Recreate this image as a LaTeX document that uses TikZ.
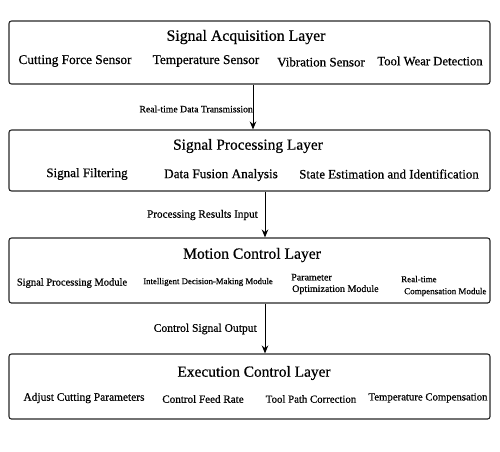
\documentclass[tikz,border=0pt]{standalone}
\usepackage{fontspec}
\setmainfont{Liberation Serif}[FakeBold=0.6]
\usetikzlibrary{arrows.meta}
\begin{document}
\begin{tikzpicture}[x=1pt,y=-1pt,
  layer/.style={draw=black!85,line width=1.1pt,rounded corners=2.5pt,minimum width=481pt,inner sep=0pt},
  ttl/.style={font=\fontsize{15.5}{17}\selectfont,inner sep=0pt},
  item/.style={font=\fontsize{13}{15}\selectfont,inner sep=0pt},
  sitem/.style={font=\fontsize{10}{11.5}\selectfont,inner sep=0pt,align=left},
  lbl/.style={font=\fontsize{10}{12}\selectfont,inner sep=0pt,anchor=east},
  arr/.style={line width=1pt,-{Stealth[length=8pt,width=6.5pt]}}]
\useasboundingbox (0,0) rectangle (500,451);
% boxes
\node[layer,minimum height=63pt] (b1) at (249.5,52.5) {};
\node[layer,minimum height=61pt] (b2) at (249.5,160.5) {};
\node[layer,minimum height=65pt] (b3) at (249.5,270.5) {};
\node[layer,minimum height=65pt] (b4) at (249.5,386.5) {};
% layer 1
\node[ttl,font=\fontsize{15.8}{17}\selectfont] (t1) at (246,37) {Signal Acquisition Layer};
\node[item,font=\fontsize{13.3}{15}\selectfont] (i11) at (75,61) {Cutting Force Sensor};
\node[item,font=\fontsize{13.3}{15}\selectfont] (i12) at (206,61) {Temperature Sensor};
\node[item] (i13) at (321,62) {Vibration Sensor};
\node[item,font=\fontsize{12.7}{15}\selectfont] (i14) at (430,61) {Tool Wear Detection};
% layer 2
\node[ttl,font=\fontsize{15.4}{17}\selectfont] (t2) at (248,146) {Signal Processing Layer};
\node[item] (i21) at (87,174) {Signal Filtering};
\node[item,font=\fontsize{13.2}{15}\selectfont] (i22) at (221,175) {Data Fusion Analysis};
\node[item,font=\fontsize{12.9}{15}\selectfont] (i23) at (389,174) {State Estimation and Identification};
% layer 3
\node[ttl,font=\fontsize{15.6}{17}\selectfont] (t3) at (252,255) {Motion Control Layer};
\node[sitem,font=\fontsize{10.5}{12}\selectfont] (i31) at (72,283) {Signal Processing Module};
\node[sitem,font=\fontsize{8.8}{10}\selectfont] (i32) at (208,282) {Intelligent Decision-Making Module};
\node[sitem,anchor=west,font=\fontsize{10}{12}\selectfont] (i33) at (291,284) {Parameter\\[-0.5pt]\hspace*{1pt}Optimization Module};
\node[sitem,anchor=west,font=\fontsize{9}{12}\selectfont] (i34) at (401,286) {Real-time\\\hspace*{3pt}Compensation Module};
% layer 4
\node[ttl,font=\fontsize{15.4}{17}\selectfont] (t4) at (254,373) {Execution Control Layer};
\node[item,font=\fontsize{11.4}{13}\selectfont] (i41) at (84,398) {Adjust Cutting Parameters};
\node[item,font=\fontsize{11.1}{13}\selectfont] (i42) at (203,399) {Control Feed Rate};
\node[item,font=\fontsize{10.8}{13}\selectfont] (i43) at (311,399) {Tool Path Correction};
\node[item,font=\fontsize{10.75}{13}\selectfont] (i44) at (428,398) {Temperature Compensation};
% arrows
\coordinate (c1) at (253,0);
\coordinate (c2) at (265,0);
\draw[arr] (b1.south -| c1) -- (b2.north -| c1);
\draw[arr] (b2.south -| c2) -- (b3.north -| c2);
\draw[arr] (b3.south -| c2) -- (b4.north -| c2);
\node[lbl,font=\fontsize{9.7}{12}\selectfont] (l1) at (253,109) {Real-time Data Transmission};
\node[lbl,font=\fontsize{11.2}{12}\selectfont] (l2) at (258,215) {Processing Results Input};
\node[lbl,font=\fontsize{11.6}{12}\selectfont] (l3) at (257,329) {Control Signal Output};
\end{tikzpicture}
\end{document}
